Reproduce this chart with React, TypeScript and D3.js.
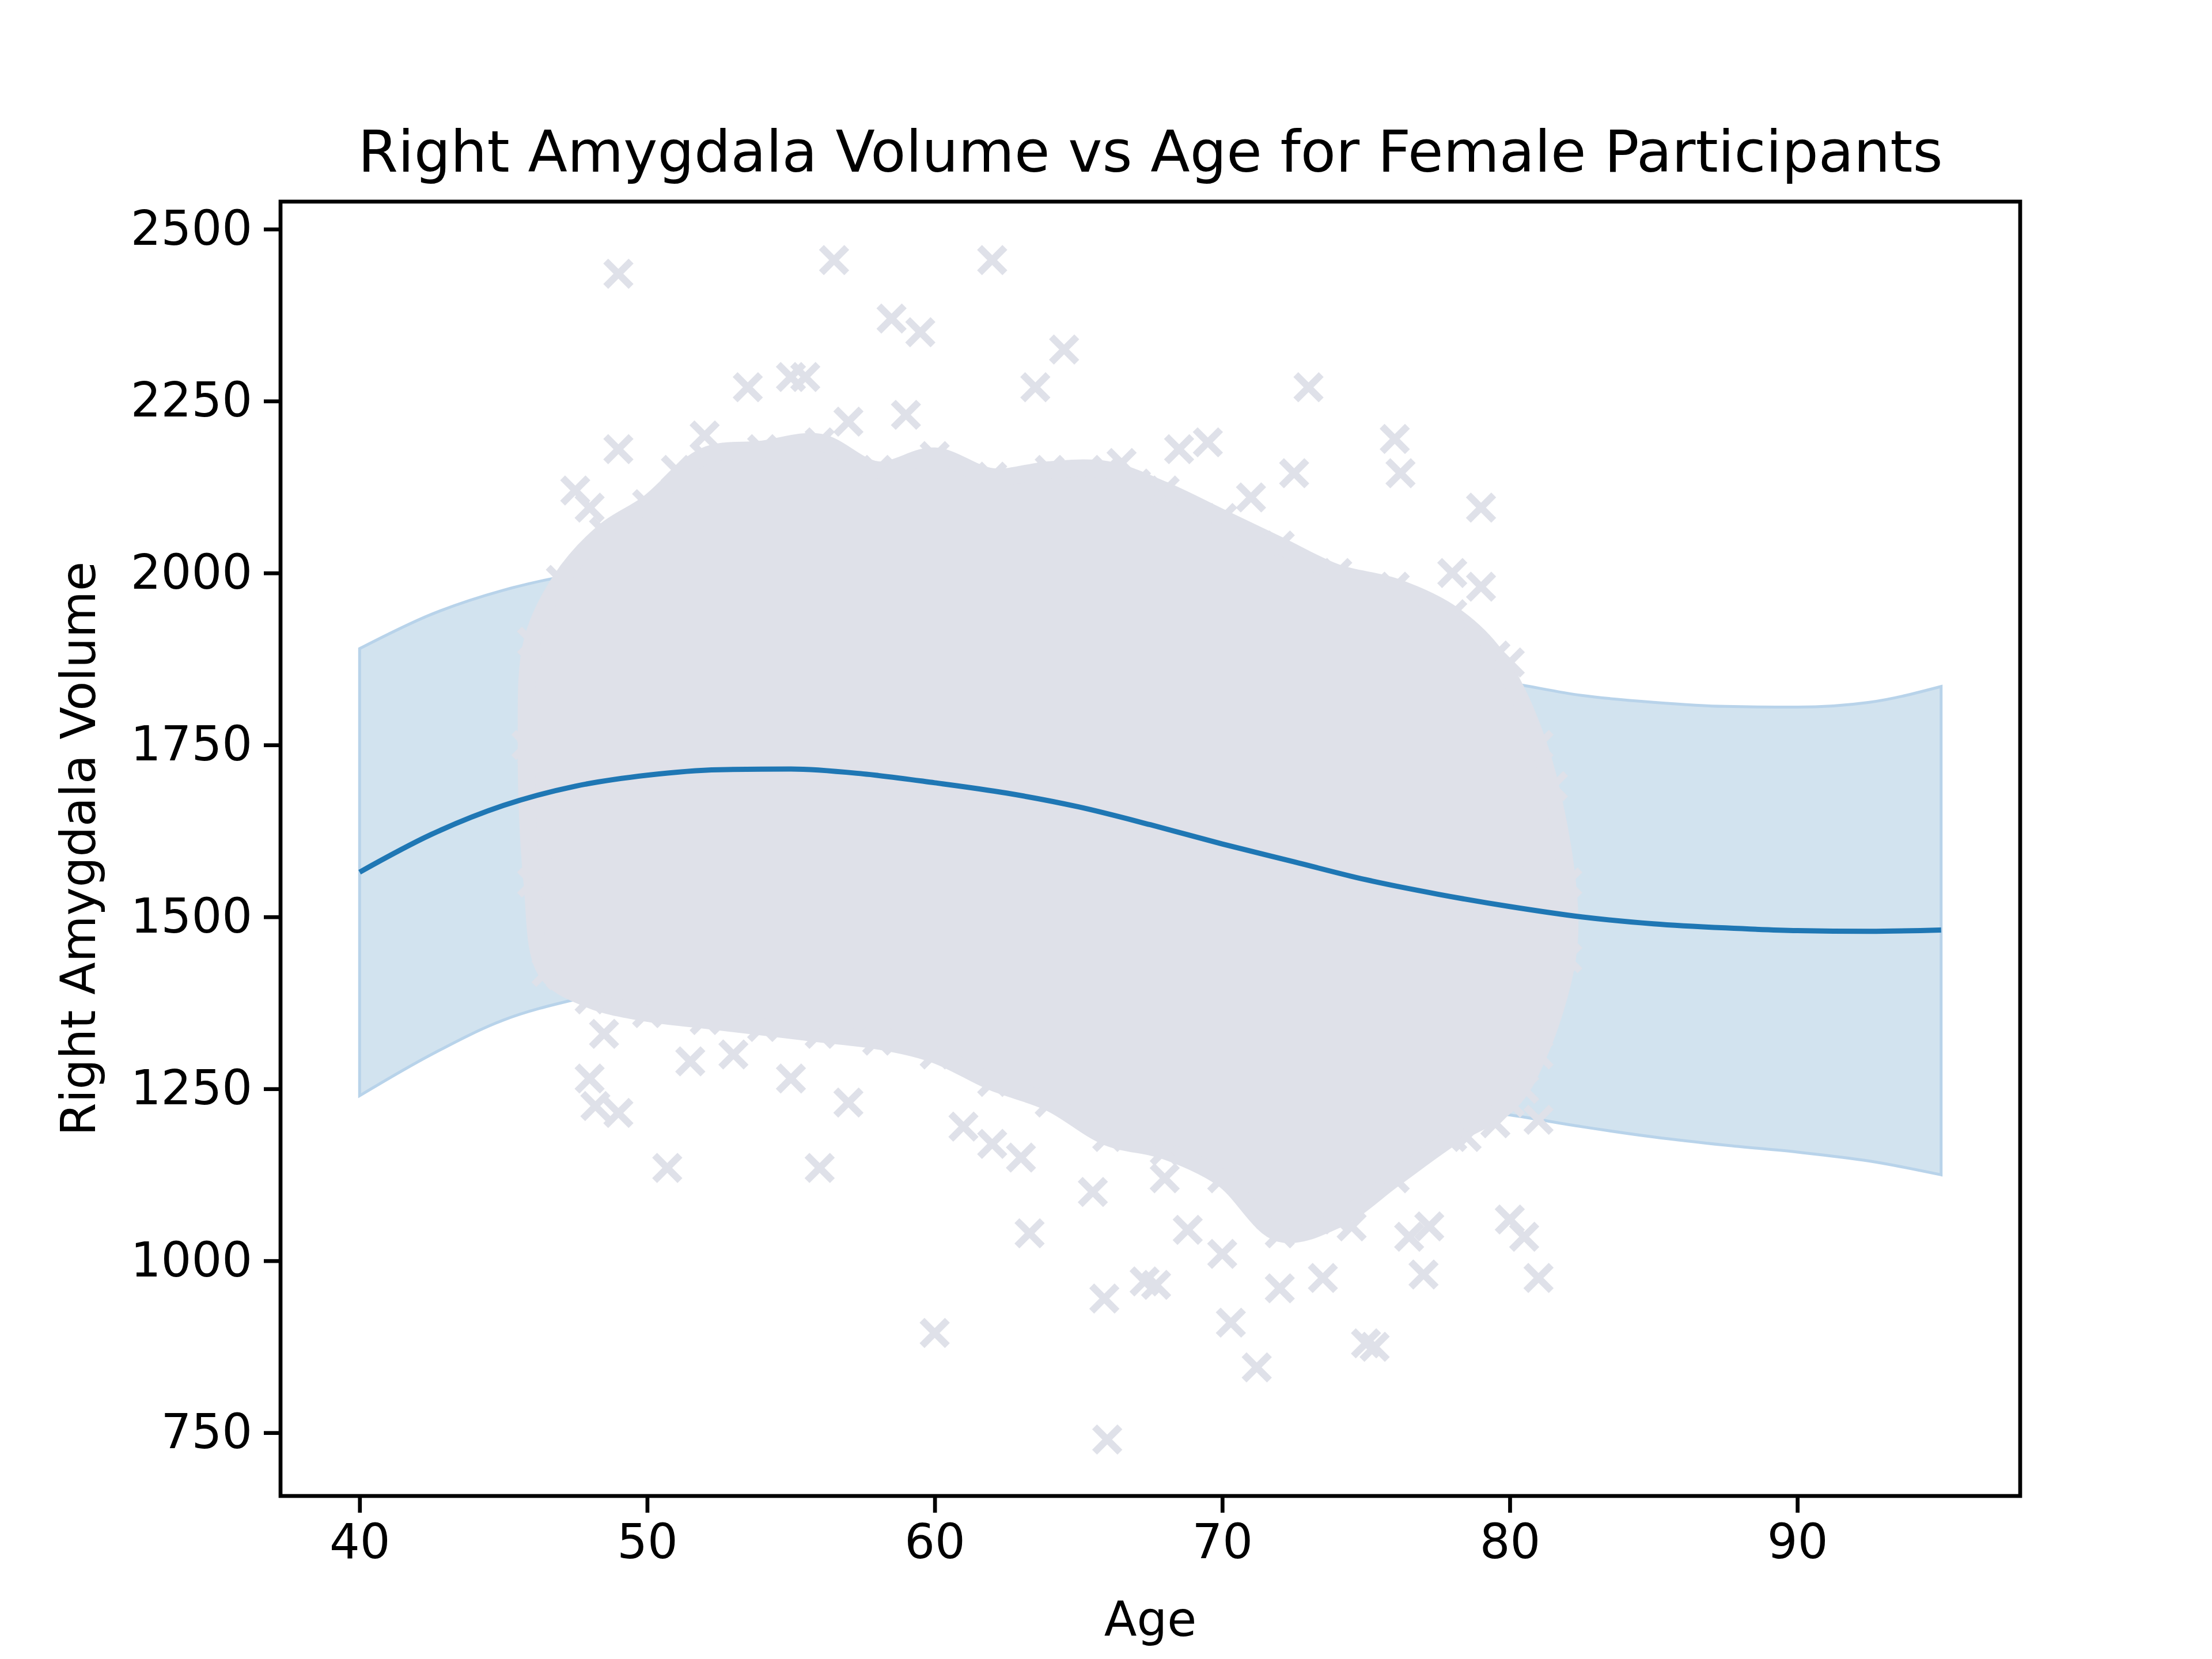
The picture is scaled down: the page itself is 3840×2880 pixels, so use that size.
import { useEffect, useRef } from 'react';
import * as d3 from 'd3';

// fitted curve and 95% band
const fitAges = [40, 42.5, 45, 47.5, 50, 52.5, 55, 57.5, 60, 62.5, 65, 67.5, 70, 72.5, 75, 77.5, 80, 82.5, 85, 87.5, 90, 92.5, 95];
const fitValues = [1565, 1620, 1662, 1690, 1706, 1714, 1715, 1708, 1695, 1680, 1660, 1634, 1606, 1580, 1554, 1533, 1515, 1500, 1490, 1484, 1480, 1479, 1481];
const bandUpper = [1890, 1940, 1975, 1998, 2010, 2015, 2012, 2000, 1985, 1968, 1950, 1930, 1910, 1890, 1870, 1855, 1840, 1822, 1812, 1806, 1805, 1812, 1835];
const bandLower = [1240, 1300, 1350, 1380, 1400, 1412, 1418, 1416, 1405, 1390, 1370, 1340, 1305, 1275, 1245, 1225, 1212, 1195, 1180, 1168, 1158, 1145, 1125];

// outline of the dense core of the scatter cloud (age, volume)
const cloudOutline: [number, number][] = [
  [46, 1900], [47, 1990], [48.5, 2060], [50, 2100], [52, 2170], [54, 2180], [56, 2190], [58, 2150],
  [60, 2170], [62, 2140], [64, 2150], [66, 2150], [68, 2120], [70, 2080], [72, 2040], [74, 2000],
  [76, 1980], [78, 1940], [79.5, 1880], [81, 1750], [82, 1550], [82, 1440], [81, 1300], [80, 1230],
  [78, 1180], [76, 1120], [74, 1060], [72, 1040], [70, 1120], [68, 1160], [66, 1180], [64, 1230],
  [62, 1260], [60, 1300], [58, 1320], [56, 1330], [54, 1340], [52, 1350], [50, 1360], [48, 1380],
  [46.5, 1420], [46, 1550], [45.8, 1750],
];

// individual markers visible outside the core
const outliers: [number, number][] = [
  [49, 2435], [56.5, 2455], [62, 2455], [58.5, 2370], [59.5, 2350], [64.5, 2325], [53.5, 2270], [55, 2285],
  [55.5, 2285], [63.5, 2270], [73, 2270], [59, 2230], [57, 2220], [49, 2180], [76, 2195], [76.2, 2145],
  [72.5, 2145], [69.5, 2190], [79, 2095], [47.5, 2120], [48, 2095], [78, 2000], [79, 1980], [80, 1870],
  [80, 1060], [80.5, 1035], [81, 975], [63.3, 1040], [56, 1135], [50.7, 1135], [48, 1265], [48.2, 1225],
  [49, 1215], [60, 895], [65.9, 945], [67.3, 970], [67.7, 965], [70.3, 910], [71.2, 845], [66, 740],
  [75, 880], [75.3, 875], [68.8, 1045], [70, 1010], [72, 960], [73.5, 975], [77, 980], [76.5, 1035],
  [77.2, 1050], [74.5, 1050], [72.8, 1085], [65.5, 1100], [55, 1265], [57, 1230], [61, 1195], [62, 1170],
  [63, 1150], [68, 1120], [78.5, 1180], [79.5, 1200], [80.5, 1250], [81, 1205], [46, 1900], [46, 1740],
  [46.5, 1570], [47, 1415], [81.5, 1690], [81.5, 1500], [81.8, 1440], [80.8, 1580], [48.5, 1330],
  [51.5, 1290], [53, 1300], [66.5, 2160], [67, 2130], [68.5, 2180], [71, 2110], [52, 2200], [51, 2150],
];

const xTicks = [40, 50, 60, 70, 80, 90];
const yTicks = [750, 1000, 1250, 1500, 1750, 2000, 2250, 2500];

const W = 3840, H = 2880;
const m = { left: 487, right: 3507, top: 350, bottom: 2597 };
const FONT = 'DejaVu Sans, sans-serif';
const MARK = '#dfe1e9';

export default function App() {
  const ref = useRef<SVGSVGElement>(null);

  useEffect(() => {
    const svg = d3.select(ref.current);
    svg.selectAll('*').remove();
    const x = d3.scaleLinear().domain([37.25, 97.75]).range([m.left, m.right]);
    const y = d3.scaleLinear().domain([658, 2540]).range([m.bottom, m.top]);

    svg.append('rect').attr('width', W).attr('height', H).attr('fill', 'white');

    const idx = d3.range(fitAges.length);
    const area = d3.area<number>().x(i => x(fitAges[i])).y0(i => y(bandLower[i])).y1(i => y(bandUpper[i])).curve(d3.curveMonotoneX);
    svg.append('path').attr('d', area(idx)!).attr('fill', '#d2e3ef').attr('stroke', '#b8d3ea').attr('stroke-width', 5);

    // scatter core
    svg.append('path')
      .attr('d', d3.line<[number, number]>().x(d => x(d[0])).y(d => y(d[1])).curve(d3.curveCatmullRomClosed)(cloudOutline)!)
      .attr('fill', MARK).attr('stroke', MARK).attr('stroke-width', 30);

    const s = 22;
    const marks = svg.append('g').attr('stroke', MARK).attr('stroke-width', 12);
    [...cloudOutline, ...outliers].forEach(([a, v]) => {
      const cx = x(a), cy = y(v);
      marks.append('path').attr('d', `M${cx - s},${cy - s}L${cx + s},${cy + s}M${cx - s},${cy + s}L${cx + s},${cy - s}`);
    });

    const line = d3.line<number>().x(i => x(fitAges[i])).y(i => y(fitValues[i])).curve(d3.curveMonotoneX);
    svg.append('path').attr('d', line(idx)!).attr('fill', 'none').attr('stroke', '#1f77b4').attr('stroke-width', 9);

    svg.append('rect').attr('x', m.left).attr('y', m.top).attr('width', m.right - m.left).attr('height', m.bottom - m.top)
      .attr('fill', 'none').attr('stroke', 'black').attr('stroke-width', 6.7);

    const xa = svg.append('g').attr('transform', `translate(0,${m.bottom})`)
      .call(d3.axisBottom(x).tickValues(xTicks).tickSize(29).tickPadding(20).tickFormat(d3.format('d')));
    const ya = svg.append('g').attr('transform', `translate(${m.left},0)`)
      .call(d3.axisLeft(y).tickValues(yTicks).tickSize(29).tickPadding(20).tickFormat(d3.format('d')));
    [xa, ya].forEach(g => {
      g.select('.domain').remove();
      g.selectAll('line').attr('stroke-width', 6.7);
      g.selectAll('text').attr('font-size', 83).attr('font-family', FONT).attr('fill', 'black');
    });

    svg.append('text').attr('x', (m.left + m.right) / 2).attr('y', 298).attr('text-anchor', 'middle')
      .attr('font-size', 100).attr('font-family', FONT).text('Right Amygdala Volume vs Age for Female Participants');
    svg.append('text').attr('x', (m.left + m.right) / 2).attr('y', 2840).attr('text-anchor', 'middle')
      .attr('font-size', 83).attr('font-family', FONT).text('Age');
    svg.append('text').attr('transform', `translate(165,${(m.top + m.bottom) / 2}) rotate(-90)`).attr('text-anchor', 'middle')
      .attr('font-size', 83).attr('font-family', FONT).text('Right Amygdala Volume');
  }, []);

  return <svg ref={ref} width={W} height={H} style={{ position: 'absolute', left: 0, top: 0 }} />;
}
